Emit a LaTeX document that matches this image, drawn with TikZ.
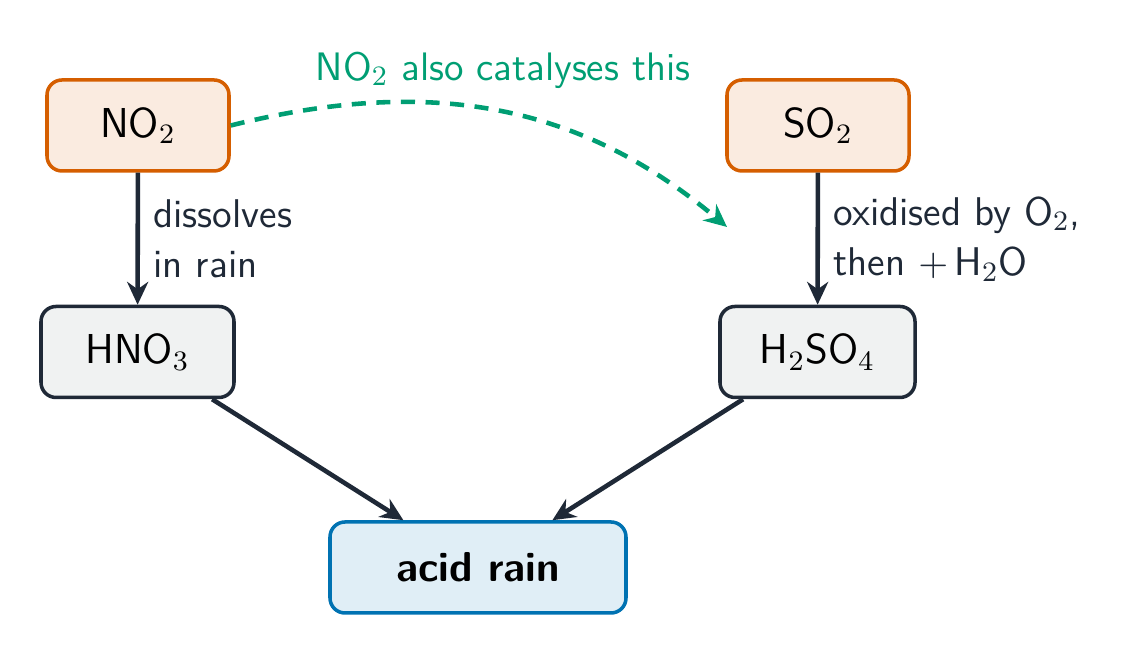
\documentclass[tikz,border=0pt]{standalone}
\usepackage{amsmath}
\usepackage{tikz}
\usetikzlibrary{arrows.meta}
\usepackage{xcolor}

\definecolor{srcline}{HTML}{D55E00}
\definecolor{srcfill}{HTML}{FAEBE0}
\definecolor{acidline}{HTML}{1F2937}
\definecolor{acidfill}{HTML}{F0F2F2}
\definecolor{rainline}{HTML}{0072B2}
\definecolor{rainfill}{HTML}{E0EEF6}
\definecolor{catgreen}{HTML}{009E73}

\tikzset{
	box/.style={rounded corners=0.15cm, line width=1pt, minimum height=0.91cm, inner xsep=0.4cm,
		font=\sffamily\fontsize{11.9}{14}\selectfont},
	source/.style={box, draw=srcline, fill=srcfill, minimum width=1.82cm},
	acid/.style={box, draw=acidline, fill=acidfill, minimum width=1.93cm},
	rain/.style={box, draw=rainline, fill=rainfill, minimum width=2.96cm},
	flow/.style={line width=1.3pt, draw=acidline, -{Stealth[length=6.5pt,width=6pt]}},
	note/.style={text=acidline, align=left, font=\sffamily\fontsize{11.4}{14.3}\selectfont}
}

\begin{document}
\begin{tikzpicture}
	\useasboundingbox (0,0) rectangle (11.4,6.56);

	\node [source] at (1.38,5.305) (no2) {NO$_2$};
	\node [source] at (8.18,5.305) (so2) {SO$_2$};
	\node [acid] at (1.375,3.04) (hno3) {HNO$_3$};
	\node [acid] at (8.175,3.04) (h2so4) {H$_2$SO$_4$};
	\node [rain] at (4.78,0.885) (rain) {\bfseries acid rain};

	\draw [flow] (no2) -- node [note, right=0.5pt] {dissolves\\in rain} (hno3);
	\draw [flow] (so2) -- node [note, right=0.5pt] {oxidised by O$_2$,\\then $+\,$H$_2$O} (h2so4);
	\draw [flow] (hno3) -- (rain);
	\draw [flow] (h2so4) -- (rain);

	% NO2 also helps the SO2 route
	\coordinate (cat) at (7.27,4.29);
	\node [text=catgreen, font=\sffamily\fontsize{11.3}{13}\selectfont] at (5.03,5.86) (catlabel) {NO$_2$ also catalyses this};
	\draw [catgreen, line width=1.3pt, dash pattern=on 4pt off 3pt, -{Stealth[length=6.5pt,width=6pt]}]
		(no2.east) to [out=14, in=140] (cat);
\end{tikzpicture}
\end{document}
